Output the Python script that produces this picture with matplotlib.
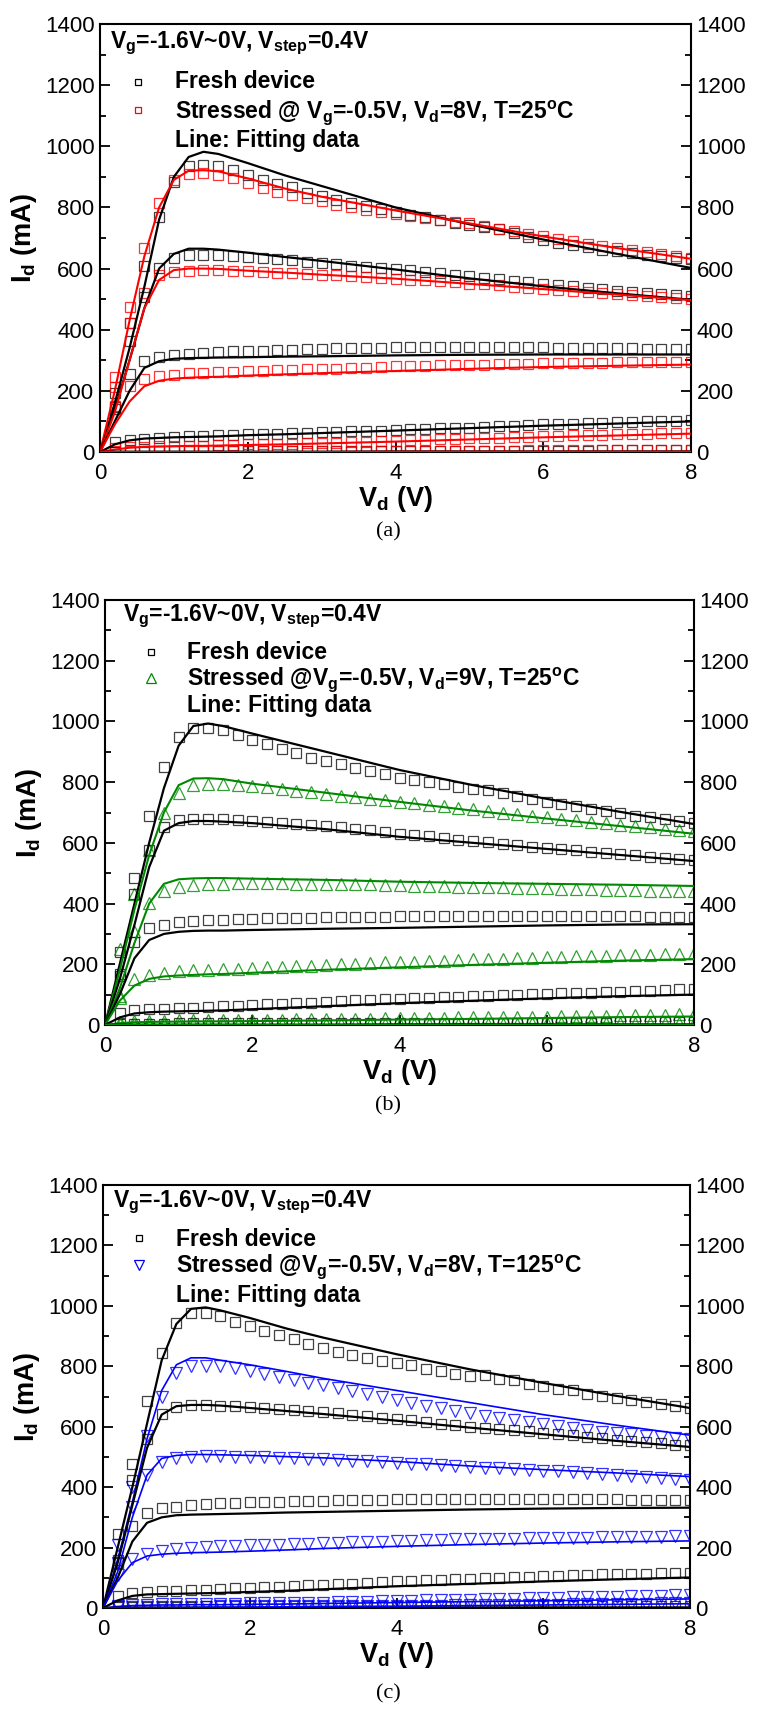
import matplotlib
matplotlib.use("Agg")
import matplotlib.pyplot as plt
from matplotlib import font_manager
from matplotlib.ticker import MultipleLocator

# pick a condensed sans if there is one
names = {f.name for f in font_manager.fontManager.ttflist}
narrow = 'Liberation Sans Narrow' if 'Liberation Sans Narrow' in names else 'Liberation Sans'

plt.rcParams['font.family'] = [narrow, 'DejaVu Sans']
plt.rcParams['mathtext.fontset'] = 'custom'
plt.rcParams['mathtext.rm'] = narrow + ':bold'
plt.rcParams['mathtext.it'] = narrow + ':bold'
plt.rcParams['mathtext.bf'] = narrow + ':bold'

# drain voltage of the measured points, and of the fitting curves
vd_pts = [0.2, 0.4, 0.6, 0.8, 1.0, 1.2, 1.4, 1.6, 1.8, 2.0,
          2.2, 2.4, 2.6, 2.8, 3.0, 3.2, 3.4, 3.6, 3.8, 4.0,
          4.2, 4.4, 4.6, 4.8, 5.0, 5.2, 5.4, 5.6, 5.8, 6.0,
          6.2, 6.4, 6.6, 6.8, 7.0, 7.2, 7.4, 7.6, 7.8, 8.0]
vd_fit = [0, 0.2, 0.4, 0.6, 0.8, 1.0, 1.2, 1.4, 1.6, 2.0, 2.5, 3, 4, 5, 6, 7, 8]

# ---------------- (a) ----------------
a_fresh = [
    [193, 421, 608, 770, 883, 936, 940, 935, 924, 906, 889, 877, 866, 848, 836, 825, 815, 805, 795, 785,
     776, 768, 760, 750, 742, 737, 728, 715, 703, 692, 685, 678, 670, 662, 656, 650, 645, 640, 636, 632],
    [146, 363, 506, 602, 635, 645, 646, 644, 641, 638, 634, 630, 627, 622, 618, 614, 610, 606, 603, 600,
     596, 590, 585, 580, 575, 570, 565, 560, 555, 550, 546, 542, 537, 532, 527, 523, 520, 516, 513, 510],
    [140, 254, 298, 310, 318, 322, 325, 327, 329, 331, 332, 334, 335, 336, 338, 339, 340, 341, 341, 342,
     342, 343, 343, 343, 343, 343, 343, 342, 342, 342, 341, 341, 340, 340, 339, 339, 338, 338, 337, 337],
    [33, 40, 44, 47, 49, 51, 52, 54, 56, 58, 59, 60, 61, 63, 65, 66, 68, 69, 70, 72,
     74, 75, 77, 78, 80, 82, 84, 86, 88, 90, 91, 93, 94, 96, 98, 99, 100, 102, 103, 105],
    [1, 1, 1, 2, 2, 2, 2, 2, 2, 2, 2, 2, 2, 3, 3, 3, 3, 3, 3, 3,
     3, 3, 3, 3, 4, 4, 4, 4, 4, 4, 4, 4, 4, 5, 5, 5, 5, 5, 5, 5],
]
a_stress = [
    [245, 475, 667, 815, 890, 910, 912, 905, 895, 880, 865, 850, 840, 830, 820, 808, 800, 792, 786, 780,
     773, 765, 758, 752, 748, 740, 731, 722, 714, 706, 698, 690, 682, 675, 668, 661, 654, 647, 641, 635],
    [213, 422, 520, 579, 590, 593, 595, 594, 593, 591, 589, 587, 585, 583, 580, 578, 575, 573, 570, 567,
     564, 561, 558, 555, 551, 548, 545, 541, 538, 534, 531, 527, 524, 521, 518, 514, 511, 507, 503, 499],
    [150, 215, 238, 248, 252, 257, 259, 261, 263, 265, 266, 267, 269, 270, 272, 273, 275, 276, 278, 280,
     281, 282, 283, 284, 285, 286, 287, 288, 289, 290, 290, 291, 292, 292, 293, 293, 294, 294, 295, 295],
    [12, 15, 17, 18, 19, 20, 21, 22, 23, 25, 25, 26, 27, 28, 30, 31, 32, 33, 35, 37,
     38, 40, 41, 43, 45, 46, 47, 49, 50, 52, 53, 54, 55, 57, 58, 59, 60, 61, 62, 63],
    [2, 2, 3, 3, 3, 3, 3, 3, 3, 3, 3, 3, 3, 3, 3, 3, 3, 4, 4, 4,
     4, 4, 4, 4, 4, 4, 4, 4, 5, 5, 5, 5, 5, 5, 5, 5, 5, 5, 5, 6],
]
a_fresh_fit = [
    [0, 160, 340, 540, 760, 900, 965, 982, 975, 945, 905, 870, 800, 745, 695, 648, 602],
    [0, 140, 300, 470, 600, 648, 665, 665, 662, 652, 638, 625, 597, 568, 542, 519, 498],
    [0, 100, 200, 275, 297, 305, 307, 308, 309, 310, 312, 313, 316, 318, 319, 319, 319],
    [0, 25, 38, 44, 46, 48, 49, 50, 51, 55, 58, 62, 70, 78, 86, 93, 100],
    [0, 1, 1, 1, 1, 1, 1, 1, 1, 1, 1, 1, 2, 2, 2, 2, 2],
]
a_stress_fit = [
    [0, 200, 430, 640, 800, 890, 920, 922, 918, 895, 862, 835, 790, 748, 705, 667, 632],
    [0, 130, 300, 470, 563, 595, 600, 600, 599, 593, 587, 580, 567, 550, 533, 515, 497],
    [0, 90, 165, 215, 233, 240, 243, 245, 246, 250, 254, 258, 265, 272, 278, 282, 286],
    [0, 8, 14, 17, 18, 19, 20, 20, 21, 23, 25, 28, 34, 41, 48, 54, 60],
    [0, 0, 0, 0, 0, 0, 0, 0, 0, 0, 0, 0, 1, 1, 1, 1, 1],
]

# ---------------- (b) ----------------
b_fresh = [
    [240, 484, 690, 850, 950, 980, 980, 972, 955, 940, 925, 910, 895, 880, 870, 860, 848, 838, 826, 815,
     808, 800, 793, 785, 777, 775, 765, 755, 745, 736, 728, 720, 712, 705, 698, 690, 684, 678, 672, 667],
    [169, 430, 578, 653, 675, 680, 680, 678, 676, 672, 669, 666, 663, 659, 655, 651, 646, 641, 636, 630,
     626, 621, 616, 611, 606, 602, 597, 593, 588, 584, 579, 575, 571, 567, 562, 559, 555, 551, 548, 545],
    [160, 275, 320, 330, 338, 342, 345, 347, 348, 350, 351, 352, 353, 354, 355, 356, 356, 357, 357, 358,
     358, 359, 359, 360, 360, 360, 360, 360, 360, 360, 359, 359, 359, 358, 358, 358, 357, 357, 356, 356],
    [40, 48, 52, 53, 55, 57, 59, 61, 63, 66, 68, 70, 72, 74, 77, 79, 81, 83, 85, 87,
     88, 90, 92, 93, 95, 97, 98, 100, 101, 103, 104, 106, 107, 109, 110, 112, 113, 115, 117, 118],
    [3, 4, 4, 4, 5, 5, 5, 5, 5, 5, 5, 5, 6, 6, 6, 6, 6, 6, 6, 7,
     7, 7, 7, 7, 7, 7, 7, 8, 8, 8, 8, 8, 8, 8, 9, 9, 9, 9, 9, 9],
]
b_stress = [
    [250, 432, 578, 700, 765, 790, 795, 795, 790, 788, 783, 778, 772, 767, 762, 756, 750, 745, 740, 735,
     730, 725, 720, 715, 710, 705, 700, 695, 690, 685, 680, 675, 670, 665, 660, 656, 651, 647, 642, 638],
    [90, 310, 402, 443, 455, 462, 465, 466, 467, 467, 467, 467, 466, 466, 465, 465, 464, 463, 462, 460,
     459, 458, 457, 456, 455, 454, 453, 452, 451, 450, 449, 448, 447, 446, 445, 444, 443, 442, 441, 440],
    [95, 152, 165, 172, 177, 180, 182, 184, 186, 188, 190, 192, 194, 196, 198, 200, 202, 204, 206, 208,
     209, 211, 212, 214, 216, 217, 219, 220, 222, 224, 225, 226, 227, 228, 229, 230, 231, 233, 234, 236],
    [10, 12, 13, 14, 15, 15, 16, 16, 17, 17, 18, 18, 19, 19, 20, 20, 21, 21, 22, 22,
     23, 23, 24, 25, 25, 26, 26, 27, 28, 28, 29, 30, 30, 31, 32, 32, 33, 34, 35, 36],
    [2, 2, 2, 3, 3, 3, 3, 3, 3, 3, 3, 3, 3, 3, 3, 3, 4, 4, 4, 4,
     4, 4, 4, 4, 4, 4, 4, 4, 5, 5, 5, 5, 5, 5, 5, 5, 5, 5, 5, 5],
]
b_fresh_fit = [
    [0, 200, 400, 600, 780, 920, 985, 993, 985, 960, 930, 900, 840, 790, 745, 702, 662],
    [0, 150, 330, 520, 640, 665, 672, 672, 670, 665, 655, 645, 620, 600, 580, 560, 540],
    [0, 100, 220, 280, 300, 307, 310, 311, 311, 313, 315, 317, 320, 324, 328, 331, 332],
    [0, 25, 38, 42, 44, 45, 46, 47, 48, 52, 57, 62, 72, 80, 88, 95, 100],
    [0, 1, 1, 1, 1, 1, 1, 1, 1, 1, 1, 1, 2, 2, 2, 2, 2],
]
b_stress_fit = [
    [0, 180, 380, 560, 700, 790, 812, 813, 810, 795, 780, 765, 735, 706, 680, 655, 630],
    [0, 120, 270, 400, 465, 480, 483, 484, 484, 482, 480, 478, 472, 468, 465, 462, 458],
    [0, 80, 130, 152, 160, 163, 165, 167, 168, 172, 177, 182, 190, 198, 205, 212, 217],
    [0, 6, 9, 10, 11, 11, 12, 12, 12, 13, 14, 15, 18, 20, 23, 26, 28],
    [0, 0, 0, 0, 0, 0, 0, 0, 0, 0, 0, 0, 1, 1, 1, 1, 1],
]

# ---------------- (c) ----------------
c_fresh = [
    [245, 476, 685, 845, 944, 975, 975, 968, 948, 933, 918, 903, 889, 873, 862, 848, 836, 826, 818, 810,
     803, 792, 783, 773, 767, 771, 759, 753, 741, 735, 726, 720, 709, 702, 696, 688, 682, 676, 669, 662],
    [160, 423, 558, 643, 665, 672, 672, 670, 668, 665, 662, 659, 655, 652, 648, 644, 640, 636, 630, 625,
     621, 615, 610, 605, 600, 597, 593, 589, 585, 580, 576, 572, 567, 562, 557, 553, 549, 545, 541, 538],
    [150, 270, 313, 330, 335, 340, 345, 347, 348, 350, 351, 352, 353, 354, 355, 356, 357, 358, 359, 360,
     360, 361, 361, 362, 362, 362, 362, 362, 362, 362, 361, 361, 361, 360, 360, 359, 359, 358, 358, 357],
    [39, 48, 53, 55, 57, 59, 61, 63, 65, 67, 69, 71, 73, 75, 77, 79, 81, 83, 86, 88,
     90, 92, 93, 95, 97, 99, 100, 102, 104, 105, 107, 108, 109, 111, 112, 113, 114, 115, 116, 117],
    [3, 4, 4, 4, 4, 4, 5, 5, 5, 5, 5, 5, 5, 5, 5, 6, 6, 6, 6, 6,
     6, 6, 6, 6, 7, 7, 7, 7, 7, 7, 7, 7, 8, 8, 8, 8, 8, 8, 8, 8],
]
c_stress = [
    [210, 400, 570, 700, 778, 800, 802, 800, 793, 785, 775, 765, 755, 745, 737, 727, 718, 708, 700, 690,
     680, 670, 662, 653, 645, 637, 630, 623, 616, 608, 602, 596, 590, 584, 580, 575, 570, 566, 562, 558],
    [150, 334, 440, 482, 495, 500, 502, 502, 501, 500, 499, 498, 496, 494, 492, 490, 488, 486, 483, 480,
     478, 476, 473, 471, 468, 465, 463, 460, 458, 455, 452, 449, 446, 443, 440, 437, 434, 431, 428, 425],
    [110, 163, 180, 190, 195, 200, 202, 204, 205, 207, 208, 210, 211, 213, 215, 216, 217, 218, 220, 222,
     223, 224, 225, 227, 228, 229, 230, 230, 231, 232, 232, 233, 233, 234, 235, 235, 236, 236, 237, 237],
    [8, 10, 11, 12, 12, 13, 13, 14, 14, 15, 15, 16, 17, 17, 18, 19, 20, 21, 22, 23,
     24, 25, 26, 27, 28, 29, 30, 31, 32, 33, 34, 35, 36, 37, 38, 39, 40, 41, 42, 43],
    [3, 3, 4, 4, 4, 4, 4, 5, 5, 5, 5, 5, 5, 6, 6, 6, 6, 7, 7, 7,
     8, 8, 8, 9, 9, 9, 10, 10, 10, 11, 11, 12, 12, 13, 13, 14, 14, 15, 15, 16],
]
c_fresh_fit = [
    [0, 200, 400, 610, 820, 940, 990, 995, 985, 960, 925, 895, 840, 790, 745, 702, 662],
    [0, 150, 340, 530, 640, 668, 672, 672, 670, 662, 652, 642, 620, 597, 575, 553, 533],
    [0, 100, 220, 282, 300, 307, 309, 310, 311, 313, 316, 318, 322, 326, 329, 331, 332],
    [0, 25, 40, 45, 46, 47, 48, 49, 50, 53, 57, 62, 72, 80, 88, 95, 101],
    [0, 1, 1, 1, 1, 1, 1, 1, 1, 1, 1, 1, 2, 2, 2, 2, 2],
]
c_stress_fit = [
    [0, 160, 350, 560, 720, 805, 828, 828, 820, 805, 783, 760, 720, 680, 640, 605, 572],
    [0, 120, 300, 440, 495, 505, 508, 508, 507, 505, 501, 497, 485, 470, 458, 447, 435],
    [0, 90, 150, 172, 178, 181, 183, 184, 185, 188, 192, 197, 204, 210, 215, 219, 222],
    [0, 5, 8, 9, 10, 10, 11, 11, 11, 12, 13, 15, 18, 21, 24, 27, 30],
    [0, 1, 2, 2, 2, 2, 2, 3, 3, 3, 4, 5, 6, 8, 10, 12, 14],
]

stress_labels = [
    r'Stressed @ V$_\mathbf{g}$=-0.5V, V$_\mathbf{d}$=8V, T=25$^\mathbf{o}$C',
    r'Stressed @V$_\mathbf{g}$=-0.5V, V$_\mathbf{d}$=9V, T=25$^\mathbf{o}$C',
    r'Stressed @V$_\mathbf{g}$=-0.5V, V$_\mathbf{d}$=8V, T=125$^\mathbf{o}$C',
]
stress_colors = ['#ff0000', '#008800', '#0000ff']
stress_markers = ['s', '^', 'v']
panel_letters = ['(a)', '(b)', '(c)']

W, H = 761, 1714
# axes boxes in pixels: left, top, right, bottom
boxes = [(100, 24, 691, 452), (105, 600, 694, 1025), (103, 1185, 690, 1608)]
letter_y = [532, 1106, 1694]
# text block offsets from the top-left corner of each axes (pixels):
# title x, marker x, text x, then y of title, fresh, stressed, line, fresh marker, stressed marker
text_pos = [
    (10, 38, 75, 24, 64, 94, 123, 58, 86),
    (18, 46, 82, 21, 59, 85, 112, 52, 78),
    (10, 36, 73, 22, 61, 87, 117, 53, 80),
]

fig = plt.figure(figsize=(W / 100, H / 100), dpi=100)


def draw_panel(box, fresh, fresh_fit, stress, stress_fit, color, marker, label, letter, ly, tp):
    l, t, r, b = box
    ax = fig.add_axes([l / W, 1 - b / H, (r - l) / W, (b - t) / H])
    ms = 6.5 if marker == 's' else 8.5
    lw = 1.2 if color == '#0000ff' else 1.5
    for k in range(len(fresh)):
        ax.plot(vd_pts, fresh[k], 's', ms=6.5, mfc='none', mec='black', mew=0.9, alpha=0.75, zorder=2)
        ax.plot(vd_pts, stress[k], marker, ms=ms, mfc='none', mec=color, mew=0.9, alpha=0.8, zorder=2)
        ax.plot(vd_fit, fresh_fit[k], color='black', lw=1.6, zorder=3)
        ax.plot(vd_fit, stress_fit[k], color=color, lw=lw, zorder=3)
    ax.set_xlim(0, 8)
    ax.set_ylim(0, 1400)
    ax.xaxis.set_major_locator(MultipleLocator(2))
    ax.yaxis.set_major_locator(MultipleLocator(200))
    ax.yaxis.set_minor_locator(MultipleLocator(100))
    ax.tick_params(axis='y', which='both', direction='in', left=True, right=True,
                   labelleft=True, labelright=True, labelsize=16, width=1.3, pad=4)
    ax.tick_params(axis='y', which='major', length=7)
    ax.tick_params(axis='y', which='minor', length=4)
    ax.tick_params(axis='x', which='major', direction='in', length=7, width=1.3,
                   labelsize=16, pad=8, top=False)
    for s in ax.spines.values():
        s.set_linewidth(1.5)
    ax.set_xlabel(r'V$_\mathbf{d}$ (V)', fontsize=19.5, fontweight='bold', labelpad=0)
    ax.set_ylabel(r'I$_\mathbf{d}$ (mA)', fontsize=19.5, fontweight='bold', labelpad=4)

    # text block in the upper left corner
    aw, ah = r - l, b - t
    fx = lambda dx: dx / aw
    fy = lambda dy: 1 - dy / ah
    tx, mx, lx, y0, y1, y2, y3, my1, my2 = tp
    kw = dict(transform=ax.transAxes, fontsize=16.5, fontweight='bold', va='baseline')
    ax.text(fx(tx), fy(y0), r'V$_\mathbf{g}$=-1.6V~0V, V$_\mathbf{step}$=0.4V', **kw)
    ax.text(fx(lx), fy(y1), 'Fresh device', **kw)
    ax.text(fx(lx), fy(y2), label, **kw)
    ax.text(fx(lx), fy(y3), 'Line: Fitting data', **kw)
    ax.plot([fx(mx)], [fy(my1)], 's', ms=4.5, mfc='none', mec='black', mew=0.9, transform=ax.transAxes)
    lms = 4.5 if marker == 's' else 7
    ax.plot([fx(mx)], [fy(my2)], marker, ms=lms, mfc='none', mec=color, mew=0.9, transform=ax.transAxes)

    fig.text(0.5 + 8 / W, 1 - ly / H, letter, ha='center', va='center', fontsize=16,
             family='Liberation Serif')
    return ax


panels = [
    (a_fresh, a_fresh_fit, a_stress, a_stress_fit),
    (b_fresh, b_fresh_fit, b_stress, b_stress_fit),
    (c_fresh, c_fresh_fit, c_stress, c_stress_fit),
]
for i, (fr, frf, st, stf) in enumerate(panels):
    draw_panel(boxes[i], fr, frf, st, stf, stress_colors[i], stress_markers[i],
               stress_labels[i], panel_letters[i], letter_y[i], text_pos[i])

fig.savefig('out.png', dpi=100)
